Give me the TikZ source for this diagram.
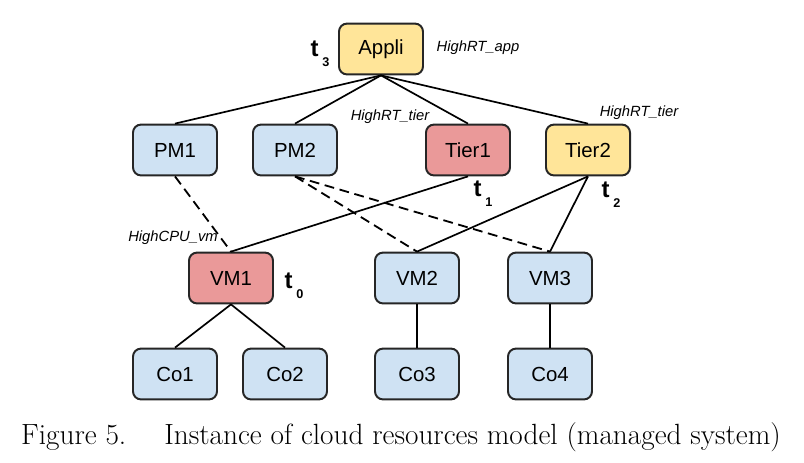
\documentclass[tikz,border=0pt]{standalone}
\usepackage{fontspec}
\setsansfont{Liberation Sans}

\definecolor{vmblue}{HTML}{CFE2F3}
\definecolor{vmred}{HTML}{EA9999}
\definecolor{vmyellow}{HTML}{FFE599}

\tikzset{every picture/.style={line width=1.2pt}}
\tikzset{
	res/.style={draw=black!85, line width=1.4pt, rounded corners=0.2cm, fill=vmblue,
		minimum width=2.1cm, minimum height=1.27cm, inner sep=0pt,
		font=\sffamily\fontsize{14.5}{16}\selectfont},
	hot/.style={res, fill=vmred},
	warm/.style={res, fill=vmyellow},
	symptom/.style={inner sep=0pt, font=\sffamily\itshape\fontsize{10.5}{12}\selectfont},
	tick/.style={inner sep=0pt, font=\sffamily\bfseries\fontsize{17}{18}\selectfont},
	link/.style={black, line width=1.2pt},
	host/.style={black, line width=1.3pt, dash pattern=on 7pt off 4pt},
}
\newcommand{\tstep}[1]{t\,\raisebox{-0.8ex}{\fontsize{9}{9}\selectfont #1}}

\begin{document}
\begin{tikzpicture}[x=0.025cm, y=-0.025cm]
		\useasboundingbox (0,0) rectangle (804,462);

		% resources
		\node[warm] (appli) at (381,49) {Appli};
		\node[res] (pm1) at (175,150) {PM1};
		\node[res] (pm2) at (295,150) {PM2};
		\node[hot] (tier1) at (468,150) {Tier1};
		\node[warm] (tier2) at (588,150) {Tier2};
		\node[hot] (vm1) at (231,278) {VM1};
		\node[res] (vm2) at (417,278) {VM2};
		\node[res] (vm3) at (550,278) {VM3};
		\node[res] (co1) at (175,374) {Co1};
		\node[res] (co2) at (285,374) {Co2};
		\node[res] (co3) at (417,374) {Co3};
		\node[res] (co4) at (550,374) {Co4};

		% composition links
		\draw[link] (appli.south) -- (pm1.north);
		\draw[link] (appli.south) -- (pm2.north);
		\draw[link] (appli.south) -- (tier1.north);
		\draw[link] (appli.south) -- (tier2.north);
		\draw[link] (tier1.south) -- (vm1.north);
		\draw[link] (tier2.south) -- (vm2.north);
		\draw[link] (tier2.south) -- (vm3.north);
		\draw[link] (vm1.south) -- (co1.north);
		\draw[link] (vm1.south) -- (co2.north);
		\draw[link] (vm2.south) -- (co3.north);
		\draw[link] (vm3.south) -- (co4.north);

		% hosting links
		\draw[host] (pm1.south) -- (vm1.north);
		\draw[host] (pm2.south) -- (vm2.north);
		\draw[host] (pm2.south) -- (vm3.north);

		% symptoms and times
		\node[symptom] (sapp) at (478,48) {HighRT\_app};
		\node[symptom] (stier1) at (390,117) {HighRT\_tier};
		\node[symptom] (stier2) at (639,113) {HighRT\_tier};
		\node[symptom] (svm) at (173,238) {HighCPU\_vm};
		\node[tick] (t3) at (320,54) {\tstep{3}};
		\node[tick] (t1) at (483,194) {\tstep{1}};
		\node[tick] (t2) at (611,195) {\tstep{2}};
		\node[tick] (t0) at (294,286) {\tstep{0}};

		\node[inner sep=0pt, font=\fontsize{20.8}{24}\selectfont] (caption) at (401,437)
			{Figure 5.\hspace{1.3em}Instance of cloud resources model (managed system)};
	\end{tikzpicture}
\end{document}
